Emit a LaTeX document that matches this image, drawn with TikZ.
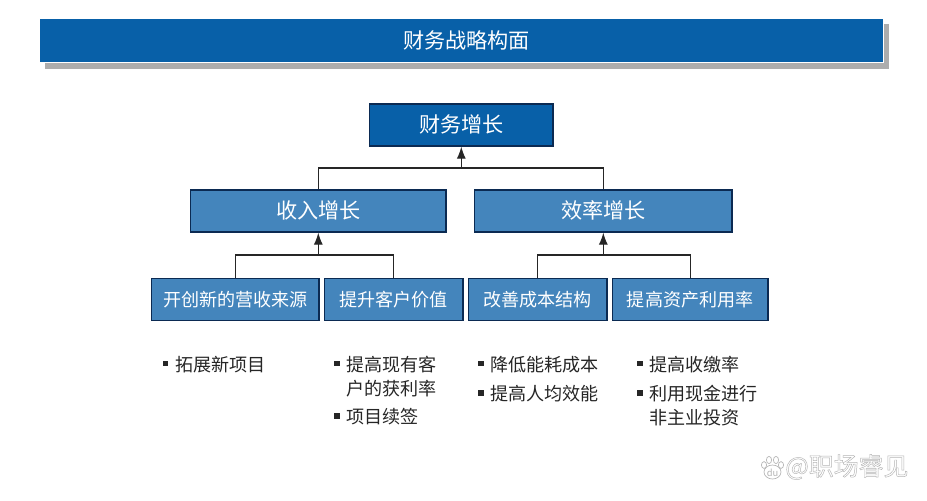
\documentclass[tikz,border=0pt]{standalone}
\usepackage{fontspec}
\setmainfont{Noto Sans CJK SC}
\definecolor{deepblue}{HTML}{0860A8}
\definecolor{midblue}{HTML}{4485BC}
\definecolor{navy}{HTML}{0B2A52}
\definecolor{bandshadow}{HTML}{ADADAD}
\definecolor{wm}{HTML}{B5B5B5}
\newcommand{\px}[1]{\fontsize{#1bp}{#1bp}\selectfont}
\newcommand{\up}[1]{\raisebox{2.4pt}{#1}}
\usetikzlibrary{arrows.meta}
\tikzset{
  x=0.75pt,y=-0.75pt,
  box/.style={draw=navy,line width=1pt,text=white,inner sep=0pt,minimum height=31.5pt,anchor=center},
  rootbox/.style={box,fill=deepblue,font=\px{15.8}},
  midbox/.style={box,fill=midblue,font=\px{15.8}},
  lowbox/.style={box,fill=midblue,font=\px{13.5}},
  item/.style={anchor=west,inner sep=0pt,font=\px{13.5},text=black!85},
  bul/.style={fill=black!85,draw=none,minimum size=4pt,inner sep=0pt},
  wire/.style={draw=black!85,line width=0.9pt},
  arrowwire/.style={wire,-{Latex[length=9pt,width=6.8pt]}},
}
\begin{document}
\begin{tikzpicture}
\useasboundingbox (0,0) rectangle (927,500);
\fill[white] (0,0) rectangle (927,500);
% title band
\fill[bandshadow] (45,24) rectangle (889,69);
\node[draw=white,line width=0.5pt,fill=deepblue,text=white,font=\px{15.8},inner sep=0pt,minimum width=632.6pt,minimum height=33pt] (title) at (461.2,40.5) {\hspace{8pt}财务战略构面};
% boxes
\node[rootbox,minimum width=137.5pt] (root) at (461.3,125) {\up{财务增长}};
\node[midbox,minimum width=191.5pt] (rev) at (318.3,211) {\up{收入增长}};
\node[midbox,minimum width=193pt] (eff) at (603.3,211) {\up{效率增长}};
\node[lowbox,minimum width=125.5pt] (a) at (235.3,299.5) {开创新的营收来源};
\node[lowbox,minimum width=103.8pt] (b) at (393.7,299.5) {提升客户价值};
\node[lowbox,minimum width=103.8pt] (c) at (537.7,299.5) {改善成本结构};
\node[lowbox,minimum width=116.5pt] (d) at (690.2,299.5) {提高资产利用率};
% junctions
\coordinate (j1) at (461.3,168);
\coordinate (j2) at (318.3,255);
\coordinate (j3) at (603.3,255);
% connectors
\draw[wire] (rev.north) |- (j1) -| (eff.north);
\draw[arrowwire] (j1) -- (root.south);
\draw[wire] (a.north) |- (j2) -| (b.north);
\draw[arrowwire] (j2) -- (rev.south);
\draw[wire] (c.north) |- (j3) -| (d.north);
\draw[arrowwire] (j3) -- (eff.south);
% lists
\node[bul] (b1) at (165.5,363.5) {};
\node[item] (t1) at (175,365) {拓展新项目};
\node[bul] (b2) at (337,363.5) {};
\node[item] (t2) at (346,365) {提高现有客};
\node[item] (t3) at (346,389) {户的获利率};
\node[bul] (b3) at (337,416) {};
\node[item] (t4) at (346,417) {项目续签};
\node[bul] (b4) at (481,363.5) {};
\node[item] (t5) at (490,365) {降低能耗成本};
\node[bul] (b5) at (481,393) {};
\node[item] (t6) at (490,394) {提高人均效能};
\node[bul] (b6) at (640,363.5) {};
\node[item] (t7) at (649,365) {提高收缴率};
\node[bul] (b7) at (640,393) {};
\node[item] (t8) at (649,394) {利用现金进行};
\node[item] (t9) at (649,418) {非主业投资};
% watermark
\begin{scope}[draw=wm,line width=0.5pt,fill=white]
\filldraw (764,465) ellipse (2.6 and 3.4);
\filldraw (769,460) ellipse (2.6 and 3.6);
\filldraw (776,460) ellipse (2.6 and 3.6);
\filldraw (781,465) ellipse (2.6 and 3.4);
\filldraw (772.5,472) ellipse (8.5 and 7);
\end{scope}
\node[inner sep=0pt,text=wm,font=\px{7}] (du) at (772.5,473) {du};
\node[anchor=west,inner sep=0pt,text=wm,font=\px{18.6}] (mark) at (785,467) {\special{pdf:code 1 Tr 0.35 w}@职场睿见\special{pdf:code 0 Tr}};
\end{tikzpicture}
\end{document}
